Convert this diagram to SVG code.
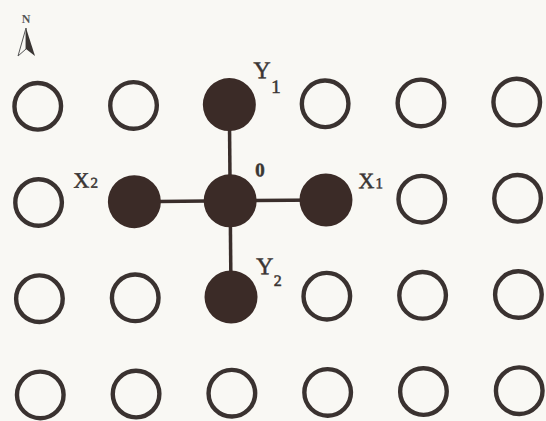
<svg xmlns="http://www.w3.org/2000/svg" width="546" height="421" viewBox="0 0 546 421">
<style>
.open{fill:none;stroke:#3a3230;stroke-width:4.4}
.fill{fill:#3b2b27}
.edge{stroke:#3a2e2b;stroke-width:3.5;fill:none}
.lbl{font-family:"Liberation Serif","DejaVu Serif",serif;fill:#3a3533;stroke:#3a3533;stroke-width:0.5}
</style>
<rect width="546" height="421" fill="#f9f8f4"/>
<g id="north">
<text class="lbl" x="26" y="23" font-size="12" font-weight="bold" text-anchor="middle" style="fill:#555;stroke:none">N</text>
<polygon points="26,28 18,56 26,49" fill="none" stroke="#555" stroke-width="1"/>
<polygon points="26,28 35,56 26,49" fill="#3a3533"/>
</g>
<g transform="rotate(-0.5 278.5 248.5)">
<g id="connectors">
<line class="edge" x1="230.6" y1="104.2" x2="230.6" y2="296.6"/>
<line class="edge" x1="134.8" y1="200.4" x2="326.4" y2="200.4"/>
</g>
<g id="r0c0"><circle class="open" cx="39" cy="104.2" r="23.3"/></g>
<g id="r0c1"><circle class="open" cx="134.8" cy="104.2" r="23.3"/></g>
<g id="Y1"><circle class="fill" cx="230.6" cy="104.2" r="26.5"/>
<text class="lbl" x="255" y="78" font-size="24">Y</text><text class="lbl" x="272.5" y="93" font-size="19">1</text></g>
<g id="r0c3"><circle class="open" cx="326.4" cy="104.2" r="23.3"/></g>
<g id="r0c4"><circle class="open" cx="422.2" cy="104.2" r="23.3"/></g>
<g id="r0c5"><circle class="open" cx="518" cy="104.2" r="23.3"/></g>

<g id="r1c0"><circle class="open" cx="39" cy="200.4" r="23.3"/></g>
<g id="X2"><circle class="fill" cx="134.8" cy="200.4" r="26.5"/>
<text class="lbl" x="74" y="186" font-size="22">X</text><text class="lbl" x="91" y="186" font-size="15">2</text></g>
<g id="O"><circle class="fill" cx="230.6" cy="200.4" r="26.5"/>
<text class="lbl" x="256" y="176" font-size="19" font-weight="bold">0</text></g>
<g id="X1"><circle class="fill" cx="326.4" cy="200.4" r="26.5"/>
<text class="lbl" x="359" y="189" font-size="22">X</text><text class="lbl" x="376" y="189" font-size="15">1</text></g>
<g id="r1c4"><circle class="open" cx="422.2" cy="200.4" r="23.3"/></g>
<g id="r1c5"><circle class="open" cx="518" cy="200.4" r="23.3"/></g>

<g id="r2c0"><circle class="open" cx="39" cy="296.6" r="23.3"/></g>
<g id="r2c1"><circle class="open" cx="134.8" cy="296.6" r="23.3"/></g>
<g id="Y2"><circle class="fill" cx="230.6" cy="296.6" r="26.5"/>
<text class="lbl" x="256" y="274" font-size="24">Y</text><text class="lbl" x="273.5" y="286" font-size="16">2</text></g>
<g id="r2c3"><circle class="open" cx="326.4" cy="296.6" r="23.3"/></g>
<g id="r2c4"><circle class="open" cx="422.2" cy="296.6" r="23.3"/></g>
<g id="r2c5"><circle class="open" cx="518" cy="296.6" r="23.3"/></g>

<g id="r3c0"><circle class="open" cx="39" cy="392.8" r="23.3"/></g>
<g id="r3c1"><circle class="open" cx="134.8" cy="392.8" r="23.3"/></g>
<g id="r3c2"><circle class="open" cx="230.6" cy="392.8" r="23.3"/></g>
<g id="r3c3"><circle class="open" cx="326.4" cy="392.8" r="23.3"/></g>
<g id="r3c4"><circle class="open" cx="422.2" cy="392.8" r="23.3"/></g>
<g id="r3c5"><circle class="open" cx="518" cy="392.8" r="23.3"/></g>
</g>
</svg>
